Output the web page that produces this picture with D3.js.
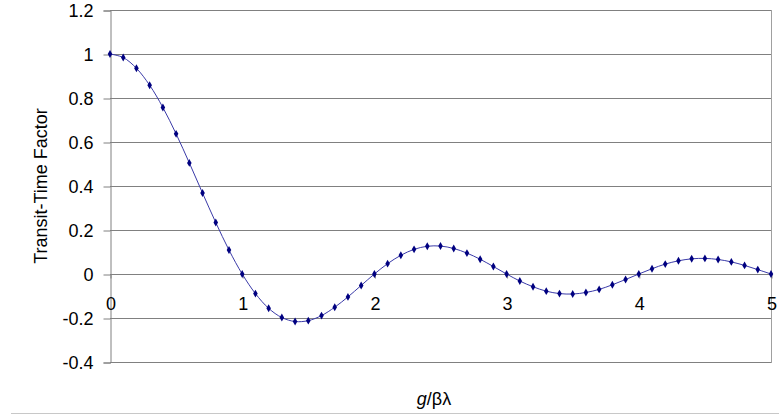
<!DOCTYPE html>
<html>
<head>
<meta charset="utf-8">
<script src="https://d3js.org/d3.v7.min.js"></script>
<style>
  body { margin: 0; background: #fff; }
  text { font-family: Arial, "Liberation Sans", sans-serif; }
</style>
</head>
<body>
<svg id="chart" width="779" height="416"></svg>
<script>
// g/(beta*lambda) sample points
var gap = [0, 0.1, 0.2, 0.3, 0.4, 0.5, 0.6, 0.7, 0.8, 0.9,
           1, 1.1, 1.2, 1.3, 1.4, 1.5, 1.6, 1.7, 1.8, 1.9,
           2, 2.1, 2.2, 2.3, 2.4, 2.5, 2.6, 2.7, 2.8, 2.9,
           3, 3.1, 3.2, 3.3, 3.4, 3.5, 3.6, 3.7, 3.8, 3.9,
           4, 4.1, 4.2, 4.3, 4.4, 4.5, 4.6, 4.7, 4.8, 4.9, 5];
// transit-time factor
var ttf = [1, 0.984, 0.935, 0.858, 0.757, 0.637, 0.505, 0.368, 0.234, 0.109,
           0, -0.089, -0.156, -0.198, -0.216, -0.212, -0.189, -0.151, -0.104, -0.052,
           0, 0.047, 0.085, 0.112, 0.126, 0.127, 0.116, 0.095, 0.067, 0.034,
           0, -0.032, -0.058, -0.078, -0.089, -0.091, -0.084, -0.070, -0.049, -0.025,
           0, 0.024, 0.045, 0.060, 0.069, 0.071, 0.066, 0.055, 0.039, 0.020, 0];
var yTicks = [-0.4, -0.2, 0, 0.2, 0.4, 0.6, 0.8, 1, 1.2];
var xTicks = [0, 1, 2, 3, 4, 5];

var svg = d3.select("#chart");
var plotLeft = 110, plotRight = 771, plotTop = 10, plotBottom = 362;

var x = d3.scaleLinear().domain([0, 5]).range([plotLeft, plotRight]);
var y = d3.scaleLinear().domain([-0.4, 1.2]).range([plotBottom, plotTop]);

// outer frame line at the bottom
svg.append("line")
    .attr("x1", 11).attr("x2", 779)
    .attr("y1", 413.5).attr("y2", 413.5)
    .style("stroke", "#c8c8c8").style("stroke-width", 1);

// horizontal gridlines
svg.append("g")
    .selectAll("line")
    .data(yTicks)
    .enter().append("line")
    .attr("x1", plotLeft).attr("x2", plotRight)
    .attr("y1", function (d) { return Math.round(y(d)) + 0.5; })
    .attr("y2", function (d) { return Math.round(y(d)) + 0.5; })
    .style("stroke", "#808080");

// right border
svg.append("line")
    .attr("x1", plotRight + 0.5).attr("x2", plotRight + 0.5)
    .attr("y1", plotTop).attr("y2", plotBottom + 1)
    .style("stroke", "#a0a0a0");

// y axis
var yAxis = svg.append("g")
    .attr("transform", "translate(" + (plotLeft + 0.5) + ",0.5)")
    .call(d3.axisLeft(y).tickValues(yTicks).tickSize(7).tickPadding(10)
        .tickFormat(function (d) { return String(+d.toFixed(1)); }));
yAxis.select(".domain").style("stroke", "#808080");
yAxis.selectAll(".tick line").style("stroke", "#808080");
yAxis.selectAll("text").style("font-size", "18px").style("fill", "#000")
    .attr("font-family", "Arial, 'Liberation Sans', sans-serif");

// x axis on the zero line
var xAxis = svg.append("g")
    .attr("transform", "translate(0.5," + (Math.round(y(0)) + 0.5) + ")")
    .call(d3.axisBottom(x).tickValues(xTicks).tickSize(4).tickPadding(19)
        .tickFormat(d3.format("d")));
xAxis.select(".domain").remove();
xAxis.selectAll(".tick line").style("stroke", "#808080");
xAxis.selectAll("text").style("font-size", "18px").style("fill", "#000")
    .attr("font-family", "Arial, 'Liberation Sans', sans-serif");

// series
var pts = gap.map(function (g, i) { return [g, ttf[i]]; });
var line = d3.line()
    .x(function (d) { return x(d[0]); })
    .y(function (d) { return y(d[1]); })
    .curve(d3.curveCatmullRom);

svg.append("path")
    .datum(pts)
    .attr("d", line)
    .style("fill", "none")
    .style("stroke", "#3a3aa8")
    .style("stroke-width", 1);

svg.append("g")
    .selectAll("path")
    .data(pts)
    .enter().append("path")
    .attr("d", d3.symbol().type(d3.symbolDiamond).size(18))
    .attr("transform", function (d) { return "translate(" + x(d[0]) + "," + y(d[1]) + ")"; })
    .style("fill", "#000080");

// axis titles
svg.append("text")
    .attr("transform", "translate(47,186) rotate(-90)")
    .attr("text-anchor", "middle")
    .style("font-size", "18px")
    .text("Transit-Time Factor");

var xt = svg.append("text")
    .attr("x", 434).attr("y", 405)
    .attr("text-anchor", "middle")
    .style("font-size", "18px");
xt.append("tspan").style("font-style", "italic").text("g");
xt.append("tspan").text("/\u03B2\u03BB");
</script>
</body>
</html>
